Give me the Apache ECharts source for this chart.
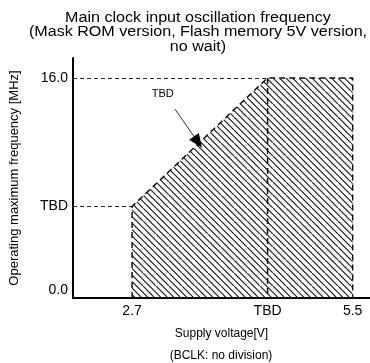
<!DOCTYPE html>
<html>
<head>
<meta charset="utf-8">
<script src="https://cdn.jsdelivr.net/npm/echarts@6/dist/echarts.min.js"></script>
<style>
  html, body { margin: 0; padding: 0; background: #fff; }
  #chart { width: 370px; height: 363px; }
</style>
</head>
<body>
<div id="chart"></div>
<script>
// Operating range: supply voltage [V] vs maximum frequency [MHz]
const vMin = 2.7;          // lowest supply voltage
const vKnee = 4.42;        // voltage where full speed is reached (TBD)
const vMax = 5.5;          // highest supply voltage
const fLow = 6.3;          // frequency at vMin (TBD)
const fMax = 16.0;         // full-speed frequency
const yFloor = -0.6;       // bottom of the frequency axis

const xTickValues = [vMin, vKnee, vMax];
const xTickLabels = ['2.7', 'TBD', '5.5'];
const yTickValues = [0, fLow, fMax];
const yTickLabels = ['0.0', 'TBD', '16.0'];

// Outline of the guaranteed operating region
const regionVoltage = [vMin, vMin, vKnee, vMax, vMax];
const regionFreq = [yFloor, fLow, fMax, fMax, yFloor];

// Callout arrow pointing at the sloped edge
const arrowFrom = [3.244, 13.65];
const arrowTo = [3.536, 11.16];
const calloutPos = [3.09, 14.75];
const calloutText = 'TBD';

const FONT = 'Liberation Sans, Arial, sans-serif';

// Diagonal hatch tile ("\\" lines)
function hatchTile() {
  const c = document.createElement('canvas');
  c.width = 13; c.height = 13;
  const g = c.getContext('2d');
  g.strokeStyle = '#1a1a1a';
  g.lineWidth = 1.2;
  g.beginPath();
  g.moveTo(-1, -1); g.lineTo(14, 14);
  g.moveTo(5.5, -1); g.lineTo(14, 7.5);
  g.moveTo(-1, 5.5); g.lineTo(7.5, 14);
  g.stroke();
  return c;
}

const chart = echarts.init(document.getElementById('chart'), null, { renderer: 'canvas' });

const regionData = regionVoltage.map((v, i) => [v, regionFreq[i]]);

chart.setOption({
  animation: false,
  backgroundColor: '#fff',
  textStyle: { fontFamily: FONT },
  graphic: [
    {
      type: 'text', x: 198, y: 11, scaleX: 1.15,
      style: {
        text: 'Main clock input oscillation frequency\n(Mask ROM version, Flash memory 5V version,\nno wait)',
        textAlign: 'center', textVerticalAlign: 'top',
        font: '14px ' + FONT, fill: '#000', lineHeight: 14.3
      }
    },
    {
      type: 'text', x: 221, y: 356,
      style: {
        text: '(BCLK: no division)',
        textAlign: 'center', textVerticalAlign: 'middle',
        font: '12px ' + FONT, fill: '#000'
      }
    }
  ],
  grid: { left: 73, right: 0, top: 58, bottom: 65, containLabel: false },
  xAxis: {
    type: 'value', min: 1.95, max: 5.72,
    name: 'Supply voltage[V]', nameLocation: 'middle', nameGap: 30,
    nameTextStyle: { fontSize: 12, color: '#000', fontFamily: FONT },
    axisLine: { show: true, onZero: false, lineStyle: { color: '#000', width: 2 } },
    axisTick: { show: false },
    splitLine: { show: false },
    axisLabel: {
      customValues: xTickValues,
      formatter: v => xTickLabels[xTickValues.indexOf(v)],
      fontSize: 14, color: '#000', margin: 6, fontFamily: FONT
    }
  },
  yAxis: {
    type: 'value', min: yFloor, max: 17.5,
    name: 'Operating maximum frequency [MHz]', nameLocation: 'middle', nameGap: 52,
    nameTextStyle: { fontSize: 13, color: '#000', fontFamily: FONT },
    axisLine: { show: true, onZero: false, lineStyle: { color: '#000', width: 2 } },
    axisTick: { show: false },
    splitLine: { show: false },
    axisLabel: {
      customValues: yTickValues,
      formatter: v => yTickLabels[yTickValues.indexOf(v)],
      fontSize: 14, color: '#000', margin: 5, fontFamily: FONT
    }
  },
  series: [
    {
      // Hatched operating region with dashed outline
      type: 'line',
      data: regionData,
      symbol: 'none',
      lineStyle: { color: '#111', width: 1.5, type: [6, 4] },
      areaStyle: { origin: 'start', color: { image: hatchTile(), repeat: 'repeat' }, opacity: 1 },
      z: 3
    },
    {
      // Dashed divider at the knee voltage
      type: 'line',
      data: [[vKnee, fMax], [vKnee, yFloor]],
      symbol: 'none',
      lineStyle: { color: '#111', width: 1.5, type: [6, 4] },
      z: 4
    },
    {
      // Thin guides from the frequency axis
      type: 'line',
      data: [],
      markLine: {
        silent: true, symbol: 'none', label: { show: false },
        lineStyle: { color: '#222', width: 1, type: [4, 3] },
        data: [
          [{ coord: [1.95, fMax] }, { coord: [vKnee, fMax] }],
          [{ coord: [1.95, fLow] }, { coord: [vMin, fLow] }]
        ]
      },
      z: 2
    },
    {
      // Callout arrow and label
      type: 'line',
      data: [],
      markLine: {
        silent: true, symbol: ['none', 'triangle'], symbolSize: [12, 14],
        label: { show: false },
        lineStyle: { color: '#000', width: 0.8, type: 'solid' },
        data: [[{ coord: arrowFrom }, { coord: arrowTo }]]
      },
      markPoint: {
        symbol: 'circle', symbolSize: 0,
        label: { show: true, formatter: calloutText, color: '#000', fontSize: 11, fontFamily: FONT },
        data: [{ coord: calloutPos }]
      },
      z: 5
    }
  ]
});
</script>
</body>
</html>
